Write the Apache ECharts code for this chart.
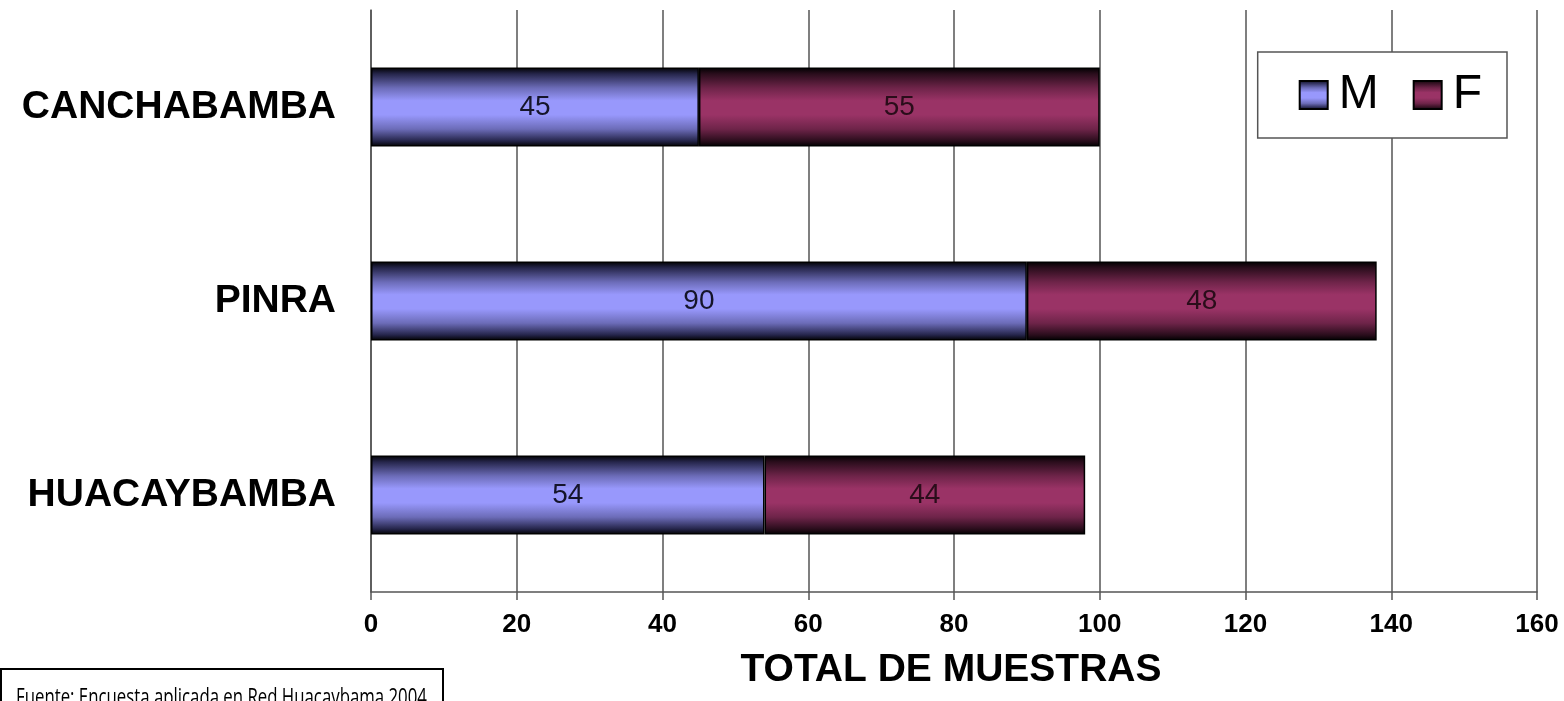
<!DOCTYPE html>
<html>
<head>
<meta charset="utf-8">
<script src="https://cdn.jsdelivr.net/npm/echarts@6/dist/echarts.min.js"></script>
<style>
  html, body { margin: 0; padding: 0; background: #fff; }
  #chart { width: 1564px; height: 701px; }
</style>
</head>
<body>
<div id="chart"></div>
<script>
// Sample counts by locality, split by sex
const localidades = ['CANCHABAMBA', 'PINRA', 'HUACAYBAMBA'];
const masculino = [45, 90, 54];
const femenino = [55, 48, 44];
const serieNombres = ['M', 'F'];
const ejeTitulo = 'TOTAL DE MUESTRAS';
const fuente = 'Fuente: Encuesta aplicada en Red Huacaybama 2004';

// cylinder-like shading across the bar's thickness
function shade(dark, mid, light) {
  return new echarts.graphic.LinearGradient(0, 0, 0, 1, [
    { offset: 0, color: '#000000' },
    { offset: 0.08, color: dark },
    { offset: 0.26, color: mid },
    { offset: 0.42, color: light },
    { offset: 0.6, color: light },
    { offset: 0.78, color: mid },
    { offset: 0.93, color: dark },
    { offset: 1, color: '#000000' }
  ]);
}

const chart = echarts.init(document.getElementById('chart'));
const font = '"Liberation Sans", Arial, sans-serif';

chart.setOption({
  backgroundColor: '#ffffff',
  animation: false,
  textStyle: { fontFamily: font },
  grid: { left: 371, right: 27, top: 10, bottom: 109, containLabel: false },
  legend: {
    right: 57,
    top: 52,
    orient: 'horizontal',
    icon: 'rect',
    padding: [19, 25, 19, 41],
    itemWidth: 28,
    itemHeight: 28,
    itemGap: 34,
    borderColor: '#555',
    borderWidth: 1.5,
    backgroundColor: '#fff',
    textStyle: { fontSize: 48, color: '#000', fontFamily: font, padding: [0, 0, 0, 6] },
    data: serieNombres
  },
  xAxis: {
    type: 'value',
    min: 0,
    max: 160,
    interval: 20,
    name: ejeTitulo,
    nameLocation: 'middle',
    nameGap: 59,
    nameTextStyle: { fontSize: 39, fontWeight: 'bold', color: '#000', fontFamily: font, padding: [0, 6, 0, 0] },
    axisLine: { show: true, lineStyle: { color: '#555', width: 1.5 } },
    axisTick: { show: true, length: 8, lineStyle: { color: '#555', width: 1.5 } },
    axisLabel: { fontSize: 26, fontWeight: 'bold', color: '#000', margin: 20 },
    splitLine: { show: true, lineStyle: { color: '#555', width: 1.5 } }
  },
  yAxis: {
    type: 'category',
    inverse: true,
    data: localidades,
    axisLine: { show: true, lineStyle: { color: '#555', width: 1.5 } },
    axisTick: { show: false },
    axisLabel: { fontSize: 39, fontWeight: 'bold', color: '#000', margin: 35 }
  },
  series: [
    {
      name: serieNombres[0],
      type: 'bar',
      stack: 'total',
      barWidth: '40.7%',
      data: masculino,
      itemStyle: { color: shade('#25254a', '#6c6cb8', '#9898fc'), borderColor: '#000', borderWidth: 1.5 },
      label: { show: true, position: 'inside', fontSize: 28, color: '#15152a', fontFamily: font }
    },
    {
      name: serieNombres[1],
      type: 'bar',
      stack: 'total',
      barWidth: '40.7%',
      data: femenino,
      itemStyle: { color: shade('#2a0d1c', '#6e2449', '#9a3366'), borderColor: '#000', borderWidth: 1.5 },
      label: { show: true, position: 'inside', fontSize: 28, color: '#2a0d1a', fontFamily: font }
    }
  ],
  graphic: [
    {
      type: 'rect',
      left: 0,
      top: 668,
      shape: { width: 442, height: 50 },
      style: { fill: '#fff', stroke: '#000', lineWidth: 2 },
      z: 10
    },
    {
      type: 'text',
      x: 16,
      y: 687,
      scaleX: 0.73,
      style: {
        text: fuente,
        font: '23px "Open Sans", "Noto Sans", sans-serif',
        fill: '#000'
      },
      z: 11
    }
  ]
});
</script>
</body>
</html>
